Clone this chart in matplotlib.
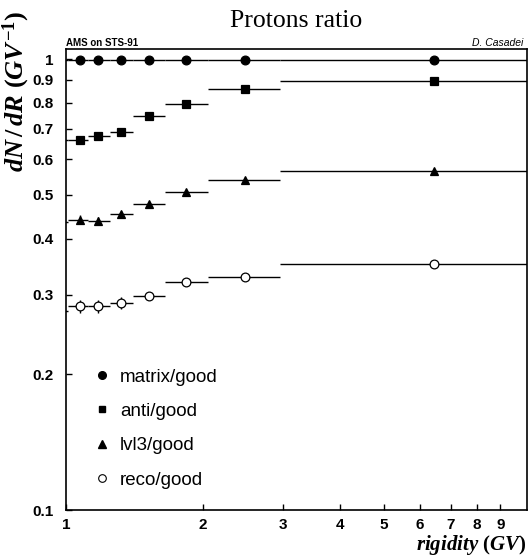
import matplotlib
matplotlib.use("Agg")
import matplotlib.pyplot as plt
from matplotlib.lines import Line2D
from matplotlib.ticker import FixedLocator, FixedFormatter, NullLocator
import numpy as np

# ---- data ----
rigidity = [0.95, 1.073, 1.176, 1.321, 1.522, 1.834, 2.475, 6.44]
bin_lo = [0.90, 1.01, 1.12, 1.25, 1.40, 1.65, 2.05, 2.95]
bin_hi = [1.01, 1.12, 1.25, 1.40, 1.65, 2.05, 2.95, 12.0]

matrix_good = [0.997, 0.997, 0.997, 0.997, 0.997, 0.997, 0.997, 0.997]
anti_good = [0.662, 0.660, 0.674, 0.690, 0.746, 0.796, 0.859, 0.893]
lvl3_good = [0.436, 0.440, 0.438, 0.453, 0.476, 0.507, 0.539, 0.564]
reco_good = [0.276, 0.283, 0.283, 0.288, 0.2986, 0.3197, 0.329, 0.3513]

matrix_err = [0.006, 0.006, 0.003, 0.003, 0.002, 0.002, 0.002, 0.002]
anti_err = [0.010, 0.010, 0.008, 0.006, 0.004, 0.004, 0.004, 0.004]
lvl3_err = [0.010, 0.010, 0.009, 0.008, 0.005, 0.004, 0.004, 0.004]
reco_err = [0.009, 0.009, 0.009, 0.009, 0.005, 0.004, 0.004, 0.004]

xticks = [1, 2, 3, 4, 5, 6, 7, 8, 9]
xtick_labels = ["1", "2", "3", "4", "5", "6", "7", "8", "9"]
yticks = [0.1, 0.2, 0.3, 0.4, 0.5, 0.6, 0.7, 0.8, 0.9, 1.0]
ytick_labels = ["0.1", "0.2", "0.3", "0.4", "0.5", "0.6", "0.7", "0.8", "0.9", "1"]

legend_labels = ["matrix/good", "anti/good", "lvl3/good", "reco/good"]

# ---- figure ----
plt.rcParams['mathtext.fontset'] = 'custom'
plt.rcParams['mathtext.it'] = 'Liberation Serif:italic:bold'
plt.rcParams['mathtext.rm'] = 'Liberation Serif:bold'
plt.rcParams['mathtext.bf'] = 'Liberation Serif:bold'

W, H = 528, 557
fig = plt.figure(figsize=(W / 100, H / 100), dpi=100)
L, R, T, B = 66, 527, 49, 510
ax = fig.add_axes([L / W, 1 - B / H, (R - L) / W, (B - T) / H])
ax.set_xscale('log')
ax.set_yscale('log')
ax.set_xlim(1.0, 10.3)
ax.set_ylim(0.1, 1.053)

x = np.array(rigidity)
xerr = np.array([x - np.array(bin_lo), np.array(bin_hi) - x])

series = [
    (matrix_good, matrix_err, 'o', 'black'),
    (anti_good, anti_err, 's', 'black'),
    (lvl3_good, lvl3_err, '^', 'black'),
    (reco_good, reco_err, 'o', 'white'),
]
for vals, errs, mk, fc in series:
    ax.errorbar(x, vals, xerr=xerr, yerr=errs, fmt=mk, color='black',
                mfc=fc, mec='black', ms=6.3 if mk != 's' else 5.8,
                mew=0.9, elinewidth=1.0, capsize=0, zorder=3)

ax.xaxis.set_major_locator(FixedLocator(xticks))
ax.xaxis.set_major_formatter(FixedFormatter(xtick_labels))
ax.xaxis.set_minor_locator(NullLocator())
ax.yaxis.set_major_locator(FixedLocator(yticks))
ax.yaxis.set_major_formatter(FixedFormatter(ytick_labels))
ax.yaxis.set_minor_locator(NullLocator())
ax.tick_params(axis='both', direction='in', length=4, width=1.0,
               labelsize=11, top=False, right=False)
ax.tick_params(axis='x', pad=6)
ax.tick_params(axis='y', pad=9)
for lab in ax.get_xticklabels() + ax.get_yticklabels():
    lab.set_fontfamily('Liberation Sans')
    lab.set_fontweight('bold')
for sp in ax.spines.values():
    sp.set_linewidth(1.2)

# legend
handles = [
    Line2D([], [], ls='none', marker='o', color='black', mfc='black', ms=5.5),
    Line2D([], [], ls='none', marker='s', color='black', mfc='black', ms=5),
    Line2D([], [], ls='none', marker='^', color='black', mfc='black', ms=5.5),
    Line2D([], [], ls='none', marker='o', color='black', mfc='white', ms=5.5, mew=0.8),
]
ax.legend(handles, legend_labels, loc='upper left', bbox_to_anchor=(0.058, 0.307),
          frameon=False, borderpad=0, borderaxespad=0, handlelength=1.0,
          handletextpad=0.45, labelspacing=0.92,
          prop={'family': 'Liberation Sans', 'size': 13.5})

# texts
fig.text((L + R) / 2 / W, 1 - 21 / H, "Protons ratio", ha='center', va='center',
         fontfamily='Liberation Serif', fontsize=18.5)
fig.text(L / W, 1 - 43 / H, "AMS on STS-91", ha='left', va='center',
         fontfamily='Liberation Sans', fontweight='bold', fontsize=7)
fig.text(523 / W, 1 - 43 / H, "D. Casadei", ha='right', va='center',
         fontfamily='Liberation Sans', style='italic', fontsize=7.5)
fig.text(R / W, 1 - 550 / H, r"$rigidity\ (GV)$", ha='right', va='baseline', fontsize=15)
fig.text(16 / W, 1 - 11 / H, r"$dN\,/\,dR\ (GV^{-1})$", ha='center', va='top',
         rotation=90, fontsize=19)

fig.savefig("out.png", dpi=100)
